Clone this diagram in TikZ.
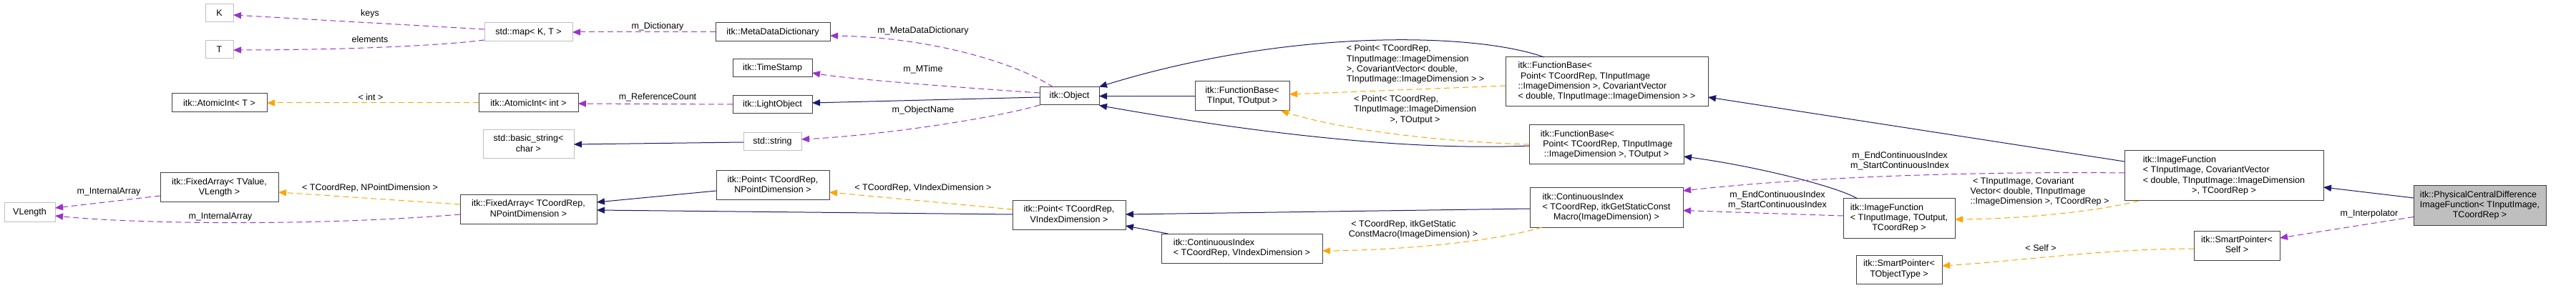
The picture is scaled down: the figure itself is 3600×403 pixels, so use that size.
\documentclass[tikz,border=0pt]{standalone}
\usepackage{fontspec}
\setmainfont{Liberation Sans}
\usetikzlibrary{arrows.meta,calc}
\newcommand{\dxml}[1]{\begin{tabular}{@{}l@{}}#1\end{tabular}}
\newcommand{\dxlast}[1]{\multicolumn{1}{@{}c@{}}{#1}}
\definecolor{edgeblue}{HTML}{191970}
\definecolor{edgepurple}{HTML}{9A32CD}
\definecolor{edgeorange}{HTML}{FFA500}
\definecolor{nodeborder}{HTML}{404040}
\definecolor{extborder}{HTML}{BFBFBF}
\definecolor{mainfill}{HTML}{BFBFBF}
\begin{document}
\begin{tikzpicture}[x=1pt,y=-1pt,
  every node/.style={font=\fontsize{12.5}{14.3}\selectfont},
  cls/.style={draw=nodeborder, line width=1pt, fill=white, rectangle, inner sep=0pt, outer sep=0pt},
  ext/.style={cls, draw=extborder},
  lbl/.style={inner sep=0pt, outer sep=0pt},
  tip/.style={-{Triangle[length=11pt,width=9pt]}},
  inherit/.style={draw=edgeblue, line width=1pt, tip},
  usage/.style={draw=edgepurple, line width=1pt, dash pattern=on 8pt off 5pt, tip},
  templ/.style={draw=edgeorange, line width=1pt, dash pattern=on 8pt off 5pt, tip}
]
\useasboundingbox[fill=white] (0,0) rectangle (3600,403);

% nodes
\node[ext, minimum width=39pt, minimum height=25pt] (K) at (306.5,18.5) {K};
\node[ext, minimum width=39pt, minimum height=25pt] (T) at (306.5,69.5) {T};
\node[cls, minimum width=133pt, minimum height=26pt] (atomT) at (306.5,144) {itk::AtomicInt< T >};
\node[cls, minimum width=165pt, minimum height=41pt] (faTV) at (306.5,262.5) {\dxml{itk::FixedArray< TValue,\\\dxlast{VLength >}}};
\node[ext, minimum width=71pt, minimum height=26pt] (vlen) at (41.5,297) {VLength};
\node[ext, minimum width=123pt, minimum height=26pt] (map) at (738.5,45) {std::map< K, T >};
\node[cls, minimum width=139pt, minimum height=26pt] (atomI) at (738.5,144) {itk::AtomicInt< int >};
\node[ext, minimum width=127pt, minimum height=40pt] (bstr) at (738.5,202) {\dxml{std::basic\_string<\\\dxlast{char >}}};
\node[cls, minimum width=191pt, minimum height=40pt] (faTC) at (738.5,293) {\dxml{itk::FixedArray< TCoordRep,\\\dxlast{NPointDimension >}}};
\node[cls, minimum width=160pt, minimum height=26pt] (mdd) at (1080,45) {itk::MetaDataDictionary};
\node[cls, minimum width=111pt, minimum height=25pt] (ts) at (1079.5,95.5) {itk::TimeStamp};
\node[cls, minimum width=111pt, minimum height=25pt] (lo) at (1079.5,146.5) {itk::LightObject};
\node[ext, minimum width=81pt, minimum height=25pt] (str) at (1079.5,198.5) {std::string};
\node[cls, minimum width=158pt, minimum height=41pt] (pNP) at (1080,259.5) {\dxml{itk::Point< TCoordRep,\\\dxlast{NPointDimension >}}};
\node[cls, minimum width=83pt, minimum height=25pt] (obj) at (1494.5,134.5) {itk::Object};
\node[cls, minimum width=158pt, minimum height=40pt] (pVI) at (1494,301) {\dxml{itk::Point< TCoordRep,\\\dxlast{VIndexDimension >}}};
\node[cls, minimum width=132pt, minimum height=41pt] (fbTIO) at (1736,134.5) {\dxml{itk::FunctionBase<\\\dxlast{TInput, TOutput >}}};
\node[cls, minimum width=225pt, minimum height=41pt] (ciVI) at (1735.5,347.5) {\dxml{itk::ContinuousIndex\\\dxlast{< TCoordRep, VIndexDimension >}}};
\node[cls, minimum width=283pt, minimum height=69pt] (fbCov) at (2245.5,114.5) {\dxml{itk::FunctionBase<\\\ Point< TCoordRep, TInputImage\\::ImageDimension >, CovariantVector\\\dxlast{< double, TInputImage::ImageDimension > >}}};
\node[cls, minimum width=216pt, minimum height=55pt] (fbOut) at (2245,202.5) {\dxml{itk::FunctionBase<\\\ Point< TCoordRep, TInputImage\\\dxlast{::ImageDimension >, TOutput >}}};
\node[cls, minimum width=214pt, minimum height=55pt] (ciS) at (2245,290.5) {\dxml{itk::ContinuousIndex\\< TCoordRep, itkGetStaticConst\\\dxlast{Macro(ImageDimension) >}}};
\node[cls, minimum width=156pt, minimum height=55pt] (ifO) at (2654,305.5) {\dxml{itk::ImageFunction\\< TInputImage, TOutput,\\\dxlast{TCoordRep >}}};
\node[cls, minimum width=120pt, minimum height=40pt] (spT) at (2654,377) {\dxml{itk::SmartPointer<\\\dxlast{TObjectType >}}};
\node[cls, minimum width=278pt, minimum height=70pt] (ifCov) at (3108,246) {\dxml{itk::ImageFunction\\< TInputImage, CovariantVector\\< double, TInputImage::ImageDimension\\\dxlast{>, TCoordRep >}}};
\node[cls, minimum width=120pt, minimum height=41pt] (spS) at (3126,343.5) {\dxml{itk::SmartPointer<\\\dxlast{Self >}}};
\node[cls, fill=mainfill, minimum width=185pt, minimum height=55pt] (phys) at (3465.5,287.5) {\dxml{itk::PhysicalCentralDifference\\ImageFunction< TInputImage,\\\dxlast{TCoordRep >}}};

% connectors
\draw[usage] ($(map.west)+(0,-4)$) -- ($(K.east)+(0,2.5)$)
  node[lbl] at (517,19) {keys};
\draw[usage] ($(map.west)+(0,11)$) .. controls +(-80,10) and +(120,0) .. ($(T.east)+(0,0.5)$)
  node[lbl] at (517,55) {elements};
\draw[templ] (atomI.west) -- (atomT.east)
  node[lbl] at (518,136) {< int >};
\draw[templ] ($(faTC.west)+(0,-7)$) -- ($(faTV.east)+(0,6.5)$)
  node[lbl] at (517,263) {< TCoordRep, NPointDimension >};
\draw[usage] ($(faTV.west)+(0,11.5)$) -- ($(vlen.east)+(0,-6)$)
  node[lbl] at (152,268) {m\_InternalArray};
\draw[usage] ($(faTC.west)+(0,7)$) .. controls +(-193,16) and +(123,12) .. ($(vlen.east)+(0,5)$)
  node[lbl] at (308,303) {m\_InternalArray};
\draw[usage] (mdd.west) -- (map.east)
  node[lbl] at (919,37) {m\_Dictionary};
\draw[usage] ($(lo.west)+(0,-0.5)$) -- ($(atomI.east)+(0,1)$)
  node[lbl] at (919,136) {m\_ReferenceCount};
\draw[inherit] ($(str.west)+(0,0.5)$) -- (bstr.east);
\draw[usage] ($(obj.north)+(-22.5,0)$) .. controls +(-52,-34) and +(140,2) .. ($(mdd.east)+(0,5)$)
  node[lbl] at (1290,43) {m\_MetaDataDictionary};
\draw[usage] ($(obj.west)+(0,-4.5)$) .. controls +(-60,-4) and +(60,10) .. ($(ts.east)+(0,6.5)$)
  node[lbl] at (1290,97) {m\_MTime};
\draw[inherit] ($(obj.west)+(0,1.5)$) -- ($(lo.east)+(0,-2.5)$);
\draw[usage] ($(obj.west)+(0,12.5)$) .. controls +(-73,21) and +(100,-5) .. ($(str.east)+(0,-3.5)$)
  node[lbl] at (1290,154) {m\_ObjectName};
\draw[inherit] ($(pNP.west)+(0,7.5)$) -- ($(faTC.east)+(0,-10)$);
\draw[inherit] ($(pVI.west)+(0,-1)$) -- ($(faTC.east)+(0,1)$);
\draw[templ] ($(pVI.west)+(0,-8)$) -- ($(pNP.east)+(0,9.5)$)
  node[lbl] at (1290,263) {< TCoordRep, VIndexDimension >};
\draw[inherit] (fbTIO.west) -- (obj.east);
\draw[inherit] ($(fbCov.north)+(-87.5,0)$) .. controls +(-98,-35) and +(264,-81.5) .. ($(obj.east)+(0,-13)$);
\draw[inherit] ($(fbOut.west)+(0,1.5)$) .. controls +(-187,8) and +(184,32.5) .. ($(obj.east)+(0,13)$);
\draw[templ] ($(fbCov.west)+(0,5.5)$) -- ($(fbTIO.east)+(0,-2.5)$)
  node[lbl] at (1978,90.5) {\dxml{< Point< TCoordRep,\\TInputImage::ImageDimension\\>, CovariantVector< double,\\\dxlast{TInputImage::ImageDimension > >}}};
\draw[templ] ($(fbOut.west)+(0,-0.5)$) .. controls +(-137,-4) and +(80,25) .. ($(fbTIO.south east)+(-12,0)$)
  node[lbl] at (1977.5,154) {\dxml{< Point< TCoordRep,\\TInputImage::ImageDimension\\\dxlast{>, TOutput >}}};
\draw[inherit] ($(ciVI.north west)+(9,0)$) -- ($(pVI.east)+(0,15)$);
\draw[inherit] ($(ciS.west)+(0,1.5)$) -- ($(pVI.east)+(0,-1)$);
\draw[templ] ($(ciS.south west)+(17,0)$) .. controls +(-75,22) and +(102,-1) .. ($(ciVI.east)+(0,3.5)$)
  node[lbl] at (1975,321.5) {\dxml{\ < TCoordRep, itkGetStatic\\\dxlast{ConstMacro(ImageDimension) >}}};
\draw[inherit] ($(ifO.north west)+(20,0)$) .. controls +(-31,-18) and +(97,13) .. ($(fbOut.east)+(0,16.5)$);
\draw[usage] ($(ifO.west)+(0,-3.5)$) -- ($(ciS.east)+(0,4)$)
  node[lbl, align=center] at (2484,280) {m\_EndContinuousIndex\\m\_StartContinuousIndex};
\draw[inherit] ($(ifCov.west)+(0,-20)$) -- ($(fbCov.east)+(0,21.5)$);
\draw[usage] ($(ifCov.west)+(0,-4)$) .. controls +(-169,-2) and +(198,-22) .. ($(ciS.east)+(0,-23.5)$)
  node[lbl, align=center] at (2655,225) {m\_EndContinuousIndex\\m\_StartContinuousIndex};
\draw[templ] ($(ifCov.south west)+(20,0)$) .. controls +(-59,15) and +(98,-1) .. ($(ifO.east)+(0,1.5)$)
  node[lbl] at (2850.5,268.5) {\dxml{\ < TInputImage, Covariant\\Vector< double, TInputImage\\\dxlast{::ImageDimension >, TCoordRep >}}};
\draw[inherit] ($(phys.west)+(0,-10.5)$) -- ($(ifCov.east)+(0,16)$);
\draw[usage] ($(phys.west)+(0,16)$) -- ($(spS.east)+(0,-10.5)$)
  node[lbl] at (3311,299) {m\_Interpolator};
\draw[templ] ($(spS.west)+(0,4.5)$) .. controls +(-120,0) and +(120,-8) .. ($(spT.east)+(0,-5)$)
  node[lbl] at (2852,347) {< Self >};
\end{tikzpicture}
\end{document}
